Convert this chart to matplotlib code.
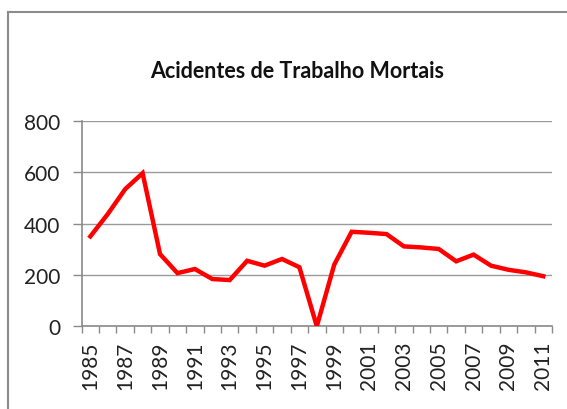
import numpy as np
import matplotlib
matplotlib.use("Agg")
import matplotlib.pyplot as plt
from matplotlib.lines import Line2D

# Dados
anos = list(range(1985, 2012))
mortos = [350, 437, 534, 596, 281, 207, 223, 184, 180, 255, 236, 262, 230, 0,
          240, 368, 364, 359, 311, 307, 301, 253, 279, 236, 220, 210, 195]
yticks = [0, 200, 400, 600, 800]

plt.rcParams['font.family'] = ['Lato', 'DejaVu Sans']

fig = plt.figure(figsize=(5.67, 4.10), dpi=100)
ax = fig.add_axes([0.144, 0.2017, 0.8295, 0.5013])

x = np.arange(len(anos))
ax.plot(x, mortos, color='#ff0000', lw=3.2, solid_joinstyle='miter', zorder=3)

ax.set_xlim(-0.5, len(anos) - 0.5)
ax.set_ylim(0, 800)
ax.set_yticks(yticks)
ax.set_yticklabels([str(v) for v in yticks], fontsize=15, color='#222222')
ax.grid(axis='y', color='#9a9a9a', lw=1.0)
ax.set_axisbelow(True)

# rótulos a cada dois anos, marcas entre categorias
ax.set_xticks(x[::2])
ax.set_xticklabels([str(a) for a in anos[::2]], rotation=90, fontsize=15, color='#222222')
ax.set_xticks(np.arange(-0.5, len(anos), 1), minor=True)
ax.tick_params(axis='x', which='major', length=0, pad=10)
ax.tick_params(axis='x', which='minor', length=5, color='#8a8a8a', width=1)
ax.tick_params(axis='y', length=6.5, color='#8a8a8a', width=1, pad=9)

for s in ['top', 'right']:
    ax.spines[s].set_visible(False)
for s in ['left', 'bottom']:
    ax.spines[s].set_color('#8a8a8a')
    ax.spines[s].set_linewidth(1.2)

fig.text(0.524, 0.825, 'Acidentes de Trabalho Mortais', ha='center', va='center',
         fontsize=15.5, fontweight='bold', color='#111111')

# moldura do gráfico (cortada à direita e em baixo)
fig.add_artist(Line2D([8 / 567, 8 / 567], [0, 1 - 13 / 410], color='#8c8c8c', lw=1.5))
fig.add_artist(Line2D([8 / 567, 1], [1 - 13 / 410, 1 - 13 / 410], color='#8c8c8c', lw=1.5))

fig.savefig('out.png', dpi=100)
